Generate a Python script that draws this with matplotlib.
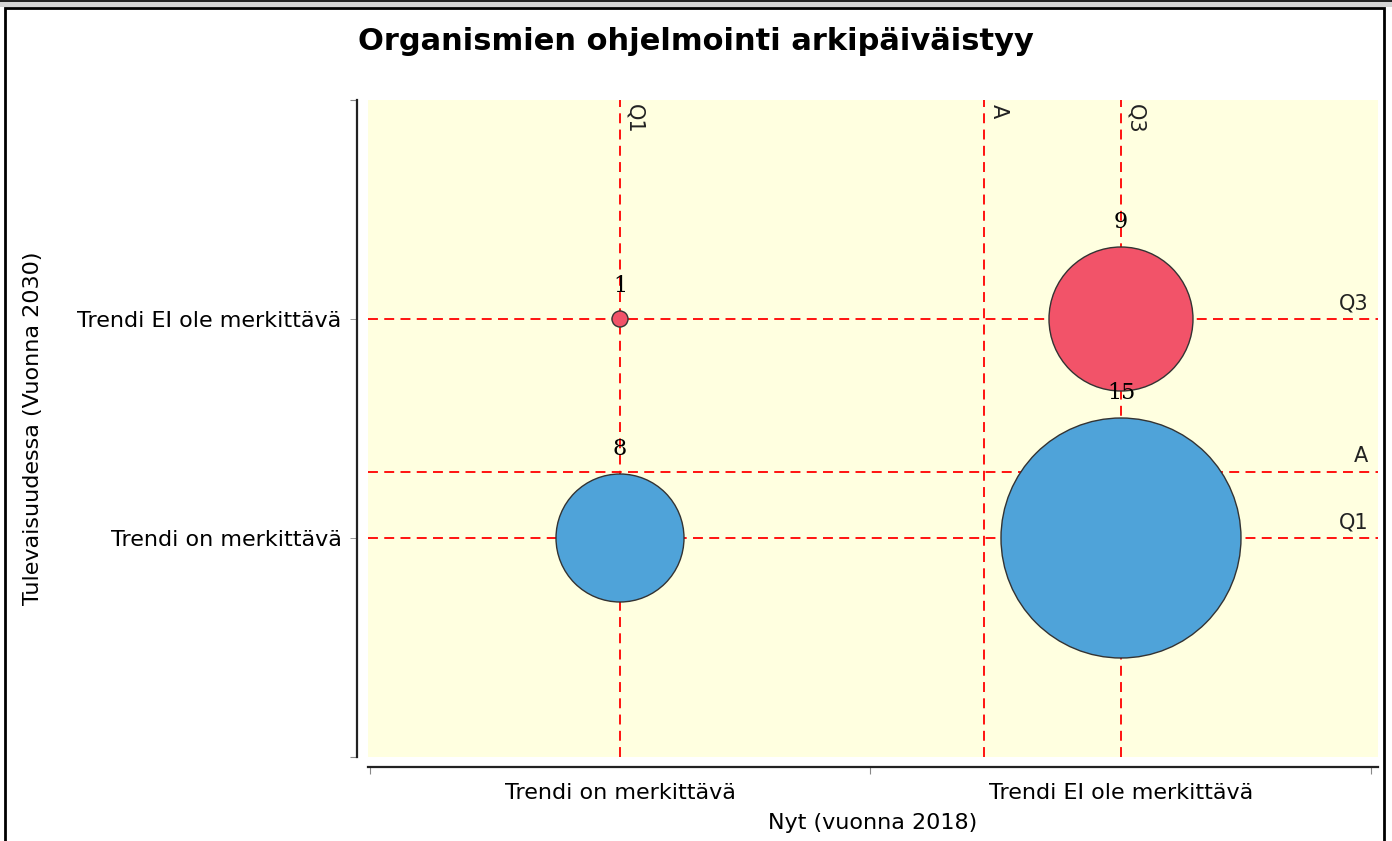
import matplotlib.pyplot as plt
from matplotlib.patches import Rectangle

# data
x_labels = ["Trendi on merkittävä", "Trendi EI ole merkittävä"]
y_labels = ["Trendi on merkittävä", "Trendi EI ole merkittävä"]
bub_x = [0.5, 1.5, 0.5, 1.5]
bub_y = [2, 2, 1, 1]
counts = [1, 9, 8, 15]
bub_colors = ["#f25369", "#f25369", "#4fa3d9", "#4fa3d9"]

x_q1, x_q3 = 0.5, 1.5
y_q1, y_q3 = 1, 2
# average lines = weighted means
x_avg = sum(x * c for x, c in zip(bub_x, counts)) / sum(counts)
y_avg = sum(y * c for y, c in zip(bub_y, counts)) / sum(counts)

W, H, DPI = 1392, 841, 100
fig = plt.figure(figsize=(W / DPI, H / DPI), dpi=DPI)
plt.rcParams['font.family'] = 'DejaVu Sans'

# outer frame
fig.patches.append(Rectangle((0, 1 - 7 / H), 1, 7 / H, transform=fig.transFigure,
                             facecolor="#d4d4d4", edgecolor="none"))
fig.patches.append(Rectangle((0, 1 - 2 / H), 1, 2 / H, transform=fig.transFigure,
                             facecolor="#222222", edgecolor="none"))
fig.patches.append(Rectangle((5 / W, -0.01), (1384 - 5) / W, 1 - 8 / H + 0.01,
                             transform=fig.transFigure, facecolor="none",
                             edgecolor="black", linewidth=2))

left, right, top, bottom = 368, 1378, 100, 757
ax = fig.add_axes([left / W, 1 - bottom / H, (right - left) / W, (bottom - top) / H])
ax.set_facecolor("#ffffe0")

ax.set_xlim(-0.003, 2.013)
ax.set_ylim(0, 3)

# reference lines
dash = dict(color="red", linestyle=(0, (5.5, 3.5)), linewidth=1.3, zorder=1)
for xv in [x_q1, x_avg, x_q3]:
    ax.axvline(xv, **dash)
for yv in [y_q1, y_avg, y_q3]:
    ax.axhline(yv, **dash)

# bubbles, radius 8 px per count
px = 72 / DPI
sizes = [(2 * 8 * c * px) ** 2 for c in counts]
ax.scatter(bub_x, bub_y, s=sizes, c=bub_colors, edgecolors="#333333", linewidths=1, zorder=3)
for x, y, c in zip(bub_x, bub_y, counts):
    ax.annotate(str(c), (x, y), xytext=(0, (8 * c + 25) * px), textcoords="offset points",
                ha="center", va="center", fontsize=16, family="DejaVu Serif", zorder=4)

# ref line labels
for xv, lab in zip([x_q1, x_avg, x_q3], ["Q1", "A", "Q3"]):
    ax.annotate(lab, (xv, 3), xytext=(3, -3), textcoords="offset points", rotation=270,
                ha="left", va="top", fontsize=15, color="#222222")
for yv, lab in zip([y_q3, y_avg, y_q1], ["Q3", "A", "Q1"]):
    ax.annotate(lab, (2.013, yv), xytext=(-7, 4), textcoords="offset points",
                ha="right", va="bottom", fontsize=15, color="#222222")

# axes
for s in ["top", "right"]:
    ax.spines[s].set_visible(False)
ax.spines["left"].set_position(("outward", 8))
ax.spines["bottom"].set_position(("outward", 7.5))
ax.spines["left"].set_bounds(0, 3)
ax.spines["bottom"].set_bounds(-0.003, 2.013)
for s in ["left", "bottom"]:
    ax.spines[s].set_linewidth(1.6)
    ax.spines[s].set_color("#222222")

ax.set_xticks([0, 1, 2])
ax.set_xticklabels([])
ax.set_xticks([0.5, 1.5], minor=True)
ax.set_xticklabels(x_labels, minor=True, fontsize=16)
ax.set_yticks([0, 3])
ax.set_yticklabels([])
ax.set_yticks([1, 2], minor=True)
ax.set_yticklabels(y_labels, minor=True, fontsize=16)
ax.tick_params(which="major", length=5, color="#888888")
ax.tick_params(axis="x", which="minor", length=0, pad=11)
ax.tick_params(axis="y", which="minor", length=5, color="#888888", pad=6)

ax.set_xlabel("Nyt (vuonna 2018)", fontsize=16)
ax.xaxis.set_label_coords(0.5, -0.085)
ax.set_ylabel("Tulevaisuudessa (Vuonna 2030)", fontsize=16)
ax.yaxis.set_label_coords(-0.322, 0.5)

fig.text(0.5, 1 - 41 / H, "Organismien ohjelmointi arkipäiväistyy", ha="center", va="center",
         fontsize=22, fontweight="bold")

fig.savefig("out.png", dpi=DPI)
